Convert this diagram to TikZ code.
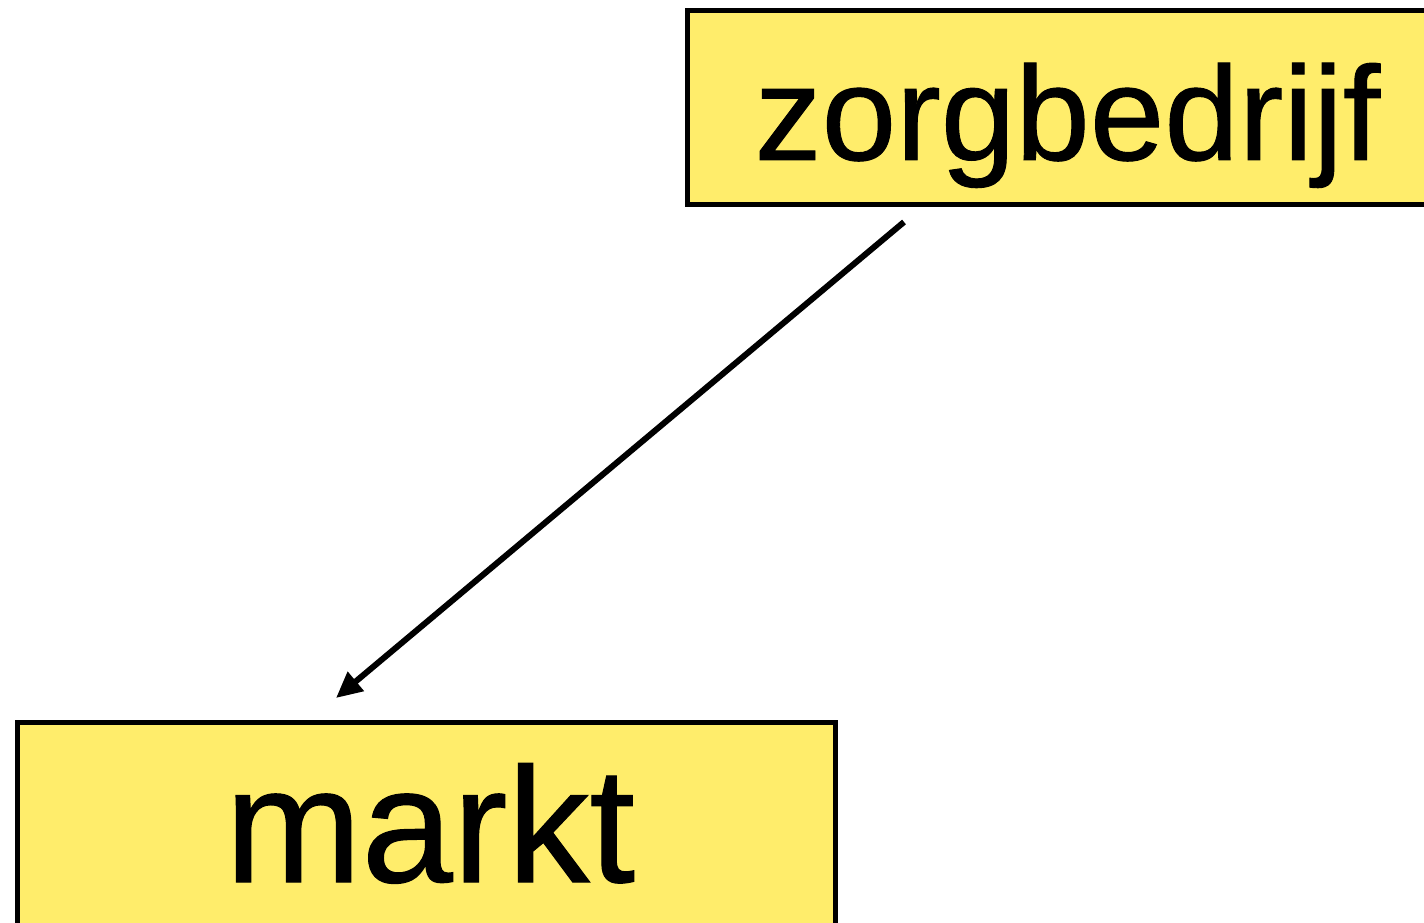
\documentclass[tikz,border=0pt]{standalone}
\usepackage{fontspec}
\setmainfont{Liberation Sans}[FakeBold=0.7]
\usetikzlibrary{arrows.meta}
\definecolor{boxyellow}{HTML}{FFED6B}
\tikzset{
  box/.style={draw=black, line width=5pt, fill=boxyellow, inner sep=0pt, outer sep=0pt},
  lbl/.style={anchor=base, inner sep=0pt},
  flow/.style={line width=6pt, -{Triangle[length=26pt,width=24pt]}}
}
\begin{document}
\begin{tikzpicture}[x=1pt, y=-1pt]
  \useasboundingbox (0,0) rectangle (1424,923);
  \clip (0,0) rectangle (1424,923);
  % boxes (both run past the page edge)
  \node[box, minimum width=752.5pt, minimum height=194pt] (zb) at (1063.75,107.5) {};
  \node[box, minimum width=818pt, minimum height=230pt] (mk) at (426.5,837.5) {};
  % labels
  \node[lbl, font=\fontsize{134}{140}\selectfont] (zbl) at (1067.5,160) {zorgbedrijf};
  \node[lbl, font=\fontsize{164}{170}\selectfont] (mkl) at (430,882) {markt};
  % connector ends
  \coordinate (from) at (904,222);
  \coordinate (to) at (336,698);
  \draw[flow] (from) -- (to);
\end{tikzpicture}
\end{document}
